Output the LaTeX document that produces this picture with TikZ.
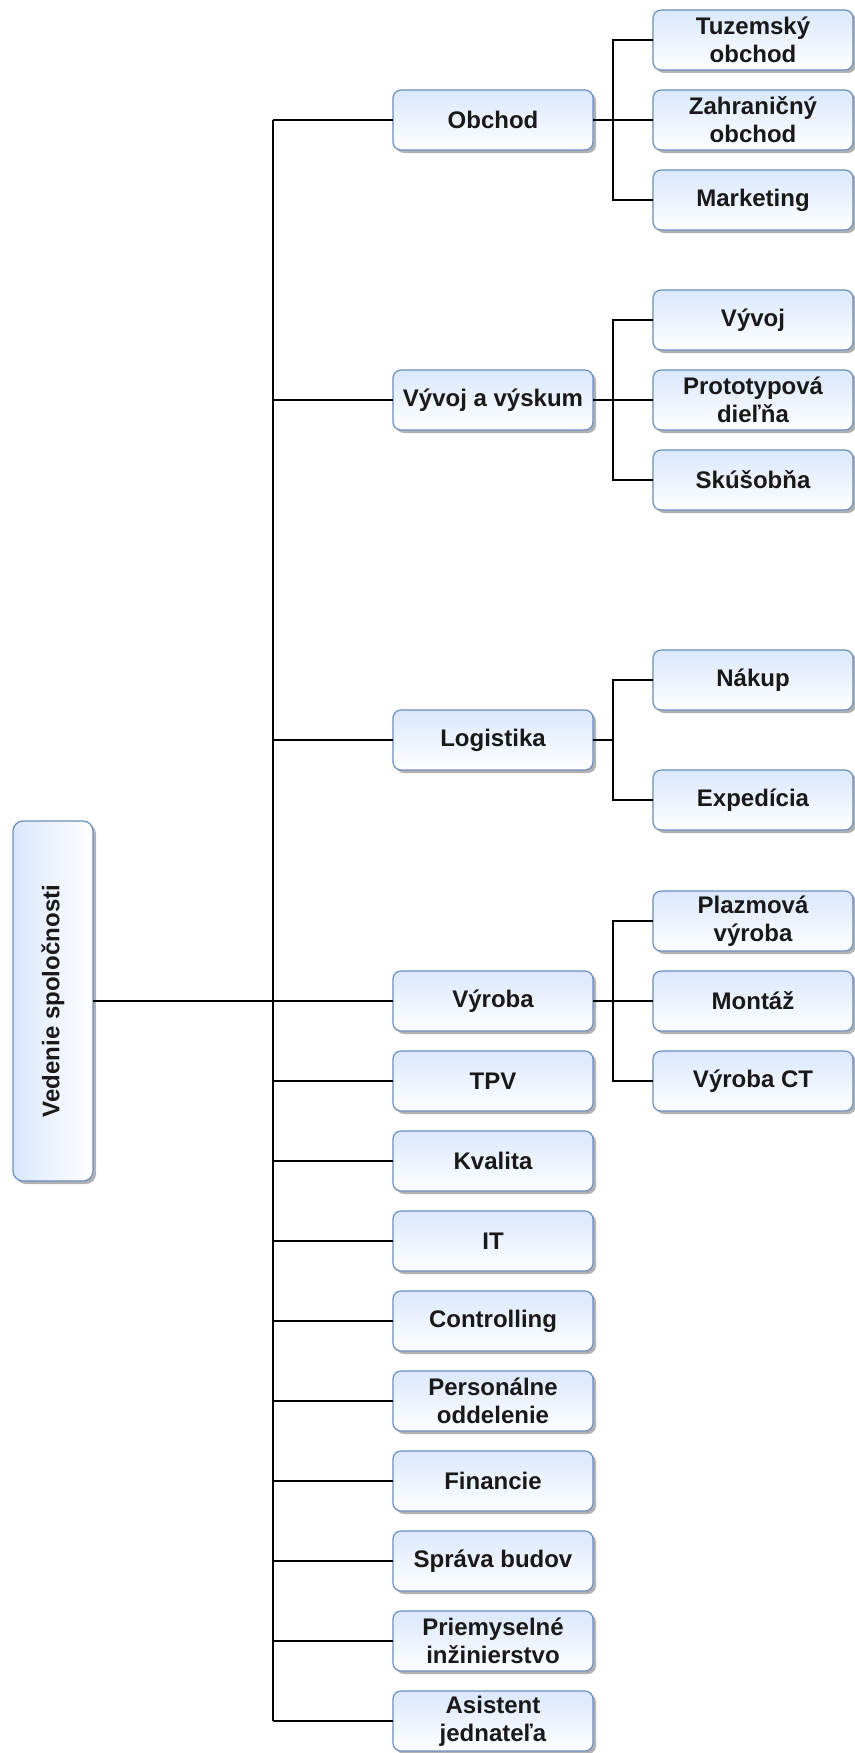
\documentclass[tikz,border=0pt]{standalone}
\usepackage{fontspec}
\setmainfont{Liberation Sans}
\usetikzlibrary{shadows}
\definecolor{lb}{HTML}{DAE8FC}
\definecolor{bc}{HTML}{6C8EBF}
\begin{document}
\begin{tikzpicture}[x=1pt,y=-1pt,
  box/.style={draw=bc, line width=1.2pt, rounded corners=8pt, top color=lb, bottom color=white,
    minimum width=200pt, minimum height=60pt, inner sep=2pt, outer sep=0pt, align=center,
    font=\bfseries\fontsize{24}{28}\selectfont, text=black!90,
    drop shadow={shadow xshift=3pt, shadow yshift=-3pt, fill=black, opacity=0.3}},
  rootbox/.style={box, rounded corners=10pt, left color=lb, right color=white,
    minimum width=80pt, minimum height=360pt},
  conn/.style={draw=black, line width=1.5pt}]
\useasboundingbox (0,0) rectangle (854,1753);

% root
\node[rootbox] (ved) at (53,1001) {\rotatebox{90}{Vedenie spoločnosti}};

% level 1
\node[box] (obch) at (493,120) {Obchod};
\node[box] (vav)  at (493,400) {Vývoj a výskum};
\node[box] (log)  at (493,740) {Logistika};
\node[box] (vyr)  at (493,1001) {Výroba};
\node[box] (tpv)  at (493,1081) {TPV};
\node[box] (kva)  at (493,1161) {Kvalita};
\node[box] (it)   at (493,1241) {IT};
\node[box] (con)  at (493,1321) {Controlling};
\node[box] (per)  at (493,1401) {Personálne\\oddelenie};
\node[box] (fin)  at (493,1481) {Financie};
\node[box] (spr)  at (493,1561) {Správa budov};
\node[box] (pri)  at (493,1641) {Priemyselné\\inžinierstvo};
\node[box] (asi)  at (493,1721) {Asistent\\jednateľa};

% level 2
\node[box] (tuz) at (753,40)  {Tuzemský\\obchod};
\node[box] (zah) at (753,120) {Zahraničný\\obchod};
\node[box] (mkt) at (753,200) {Marketing};
\node[box] (vyv) at (753,320) {Vývoj};
\node[box] (pro) at (753,400) {Prototypová\\dieľňa};
\node[box] (sku) at (753,480) {Skúšobňa};
\node[box] (nak) at (753,680) {Nákup};
\node[box] (exp) at (753,800) {Expedícia};
\node[box] (pla) at (753,921) {Plazmová\\výroba};
\node[box] (mon) at (753,1001) {Montáž};
\node[box] (vct) at (753,1081) {Výroba CT};

% connectors
\coordinate (tx) at (273,0);
\coordinate (bx) at (613,0);

\draw[conn] (ved.east) -- (vyr.west);
\draw[conn] (obch.west -| tx) -- (asi.west -| tx);
\foreach \n in {obch,vav,log,vyr,tpv,kva,it,con,per,fin,spr,pri,asi}
  \draw[conn] (\n.west -| tx) -- (\n.west);

\draw[conn] (obch.east) -- (zah.west);
\draw[conn] (obch.east -| bx) |- (tuz.west);
\draw[conn] (obch.east -| bx) |- (mkt.west);

\draw[conn] (vav.east) -- (pro.west);
\draw[conn] (vav.east -| bx) |- (vyv.west);
\draw[conn] (vav.east -| bx) |- (sku.west);

\draw[conn] (log.east) -- (log.east -| bx);
\draw[conn] (log.east -| bx) |- (nak.west);
\draw[conn] (log.east -| bx) |- (exp.west);

\draw[conn] (vyr.east) -- (mon.west);
\draw[conn] (vyr.east -| bx) |- (pla.west);
\draw[conn] (vyr.east -| bx) |- (vct.west);
\end{tikzpicture}
\end{document}
